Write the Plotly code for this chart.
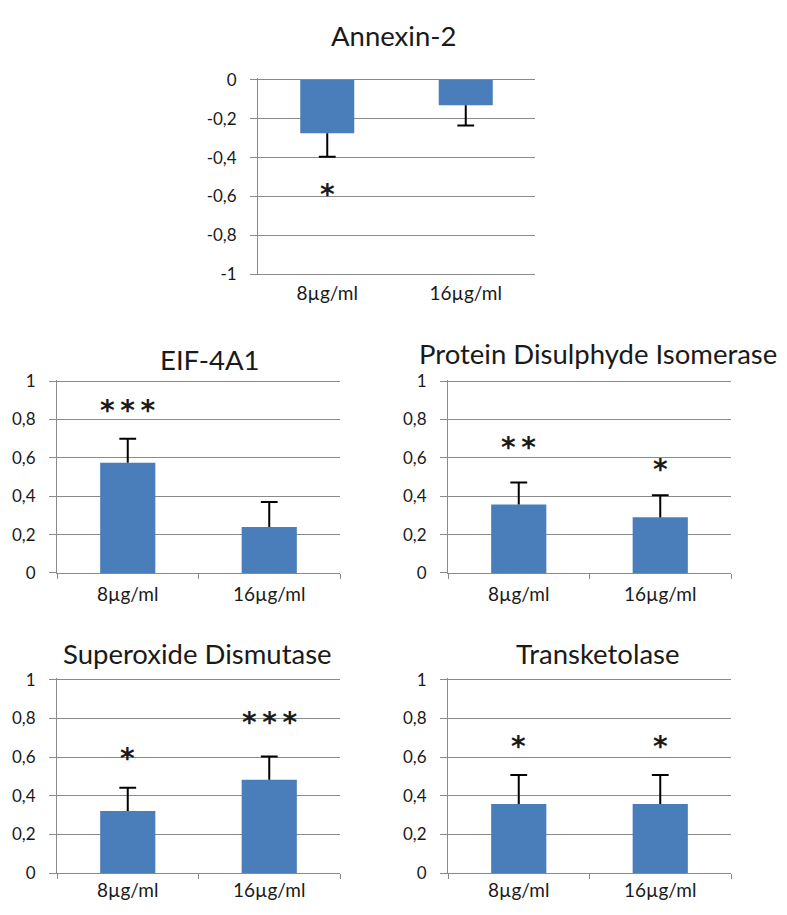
import plotly.graph_objects as go

# The page adds an 8px body margin; the figure is sized so the page is 787x915.
OFF = 8
W, H = 787 - 2 * OFF, 915 - 2 * OFF

CATEGORIES = ["8µg/ml", "16µg/ml"]
TITLES = ["Annexin-2", "EIF-4A1", "Protein Disulphyde Isomerase",
          "Superoxide Dismutase", "Transketolase"]

ANNEXIN = [-0.275, -0.13]
ANNEXIN_ERR = [0.12, 0.105]
EIF = [0.575, 0.24]
EIF_ERR = [0.125, 0.13]
PDI = [0.357, 0.29]
PDI_ERR = [0.115, 0.115]
SOD = [0.322, 0.483]
SOD_ERR = [0.12, 0.12]
TK = [0.357, 0.357]
TK_ERR = [0.15, 0.15]

TS = "\u2009"
ANNEXIN_STARS = ["*", ""]
EIF_STARS = [TS.join("***"), ""]
PDI_STARS = [TS.join("**"), "*"]
SOD_STARS = ["*", TS.join("***")]
TK_STARS = ["*", "*"]

ANNEXIN_STAR_Y = [-0.556, None]
EIF_STAR_Y = [0.885, None]
PDI_STAR_Y = [0.69, 0.575]
SOD_STAR_Y = [0.63, 0.815]
TK_STAR_Y = [0.69, 0.69]

NEG_TICKS = [0, -0.2, -0.4, -0.6, -0.8, -1]
NEG_TICK_TEXT = ["0", "-0,2", "-0,4", "-0,6", "-0,8", "-1"]
POS_TICKS = [0, 0.2, 0.4, 0.6, 0.8, 1]
POS_TICK_TEXT = ["0", "0,2", "0,4", "0,6", "0,8", "1"]

panels = [
    dict(vals=ANNEXIN, err=ANNEXIN_ERR, stars=ANNEXIN_STARS, stary=ANNEXIN_STAR_Y,
         ticks=NEG_TICKS, ticktext=NEG_TICK_TEXT, neg=True,
         xpx=(258, 535), zero_px=72.3, unit_px=198.4, title_xy=(393, 27), xstand=2),
    dict(vals=EIF, err=EIF_ERR, stars=EIF_STARS, stary=EIF_STAR_Y,
         ticks=POS_TICKS, ticktext=POS_TICK_TEXT, neg=False,
         xpx=(57, 340), zero_px=576, unit_px=196, title_xy=(209, 358), xstand=4),
    dict(vals=PDI, err=PDI_ERR, stars=PDI_STARS, stary=PDI_STAR_Y,
         ticks=POS_TICKS, ticktext=POS_TICK_TEXT, neg=False,
         xpx=(448, 731), zero_px=576, unit_px=196, title_xy=(598, 352), xstand=4),
    dict(vals=SOD, err=SOD_ERR, stars=SOD_STARS, stary=SOD_STAR_Y,
         ticks=POS_TICKS, ticktext=POS_TICK_TEXT, neg=False,
         xpx=(57, 340), zero_px=882.7, unit_px=197.7, title_xy=(197, 658), xstand=0),
    dict(vals=TK, err=TK_ERR, stars=TK_STARS, stary=TK_STAR_Y,
         ticks=POS_TICKS, ticktext=POS_TICK_TEXT, neg=False,
         xpx=(448, 731), zero_px=882.7, unit_px=197.7, title_xy=(598, 658), xstand=0),
]


def fx(px):
    return (px - OFF) / W


def fy(py):
    return 1 - (py - OFF) / H


FONT = "Lato"
STAR_FONT = "DejaVu Sans"
BAR_COLOR = "#4a7ebb"
GRID = "#8a8a8a"
TEXT = "#1a1a1a"
PAD = 0.008

fig = go.Figure()
layout = dict(
    width=W, height=H, margin=dict(l=0, r=0, t=0, b=0),
    paper_bgcolor="white", plot_bgcolor="white", showlegend=False,
    font=dict(family=FONT, color=TEXT), bargap=0.61,
)
annotations = []

for i, p in enumerate(panels):
    n = i + 1
    xa = "x" if n == 1 else f"x{n}"
    ya = "y" if n == 1 else f"y{n}"
    xkey = "xaxis" if n == 1 else f"xaxis{n}"
    ykey = "yaxis" if n == 1 else f"yaxis{n}"

    if p["neg"]:
        yr = [-1, PAD]
        top_px = p["zero_px"] - PAD * p["unit_px"]
        bot_px = p["zero_px"] + 1 * p["unit_px"]
    else:
        yr = [0, 1 + PAD]
        top_px = p["zero_px"] - (1 + PAD) * p["unit_px"]
        bot_px = p["zero_px"]

    fig.add_trace(go.Bar(
        x=CATEGORIES, y=p["vals"], xaxis=xa, yaxis=ya,
        marker=dict(color=BAR_COLOR, line=dict(width=0)),
        hoverinfo="skip",
    ))

    ends, up, down = [], [], []
    for v, e in zip(p["vals"], p["err"]):
        if v < 0:
            ends.append(v - e); up.append(e); down.append(0)
        else:
            ends.append(v + e); up.append(0); down.append(e)
    fig.add_trace(go.Scatter(
        x=CATEGORIES, y=ends, xaxis=xa, yaxis=ya, mode="markers",
        marker=dict(symbol="line-ew", size=12, line=dict(width=2, color="black")),
        error_y=dict(type="data", symmetric=False, array=up, arrayminus=down,
                     width=0, thickness=2, color="black"),
        hoverinfo="skip",
    ))

    layout[xkey] = dict(
        domain=[fx(p["xpx"][0]), fx(p["xpx"][1])], anchor=ya,
        type="category", showgrid=False, zeroline=False,
        showline=True, linecolor=GRID, linewidth=1,
        ticks="" if p["neg"] else "outside", tickson="boundaries",
        ticklen=5, tickcolor=GRID, ticklabelstandoff=p["xstand"],
        tickfont=dict(size=19, family=FONT, color=TEXT),
        fixedrange=True,
    )
    layout[ykey] = dict(
        domain=[fy(bot_px), fy(top_px)], anchor=xa, range=yr,
        tickvals=p["ticks"], ticktext=p["ticktext"],
        showgrid=True, gridcolor=GRID, gridwidth=1, zeroline=False,
        showline=True, linecolor=GRID, linewidth=1,
        ticks="outside", ticklen=7, tickcolor=GRID,
        ticklabelstandoff=10,
        tickfont=dict(size=17, family=FONT, color=TEXT),
        fixedrange=True,
    )

    tx, ty = p["title_xy"]
    annotations.append(dict(
        text=TITLES[i], x=fx(tx), y=fy(ty), xref="paper", yref="paper",
        xanchor="center", yanchor="middle", showarrow=False,
        font=dict(size=27.5, family=FONT, color=TEXT),
    ))
    for c, s, sy in zip(CATEGORIES, p["stars"], p["stary"]):
        if s and sy is not None:
            annotations.append(dict(
                text=s, x=c, y=sy, xref=xa, yref=ya,
                xanchor="center", yanchor="middle", showarrow=False,
                yshift=-7, font=dict(size=28, family=STAR_FONT, color=TEXT,
                                     weight="bold"),
            ))

layout["annotations"] = annotations
fig.update_layout(**layout)
fig.write_html("out.html")
